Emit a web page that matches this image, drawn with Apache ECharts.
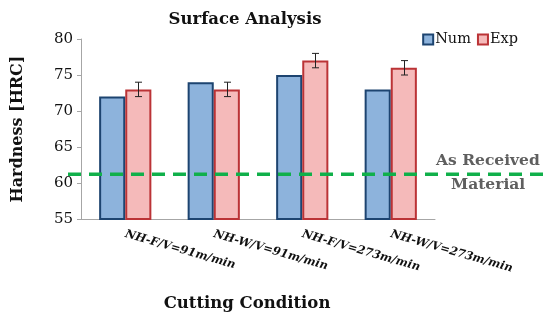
<!DOCTYPE html>
<html><head><meta charset="utf-8">
<script src="https://cdn.jsdelivr.net/npm/echarts@6/dist/echarts.min.js"></script>
<style>html,body{margin:0;padding:0;background:#fff}#c{width:550px;height:320px}</style>
</head><body><div id="c"></div>
<script>
var categories = ['NH-F/V=91m/min', 'NH-W/V=91m/min', 'NH-F/V=273m/min', 'NH-W/V=273m/min'];
var numValues = [72, 74, 75, 73];
var expValues = [73, 73, 77, 76];
var expErrors = [1, 1, 1, 1];
var asReceived = 61.2;
var yMin = 55, yMax = 80, yStep = 5;

var serif = 'DejaVu Serif';
var gap = 0.41;
var chart = echarts.init(document.getElementById('c'));
chart.setOption({
  animation: false,
  title: { text: 'Surface Analysis', left: 240, textAlign: 'center', top: 6,
    textStyle: { fontFamily: serif, fontWeight: 'bold', fontSize: 16.5, color: '#111' } },
  legend: { data: ['Num', 'Exp'], right: 27, top: 27, icon: 'rect', itemWidth: 10, itemHeight: 10, itemGap: 6,
    textStyle: { fontFamily: serif, fontSize: 14.5, color: '#111', padding: [0, 0, 0, -3] } },
  grid: [
    { left: 81, right: 115, top: 39, bottom: 101 },
    { left: 68, right: 7, top: 39, bottom: 101 }
  ],
  xAxis: [
    { type: 'category', data: categories, gridIndex: 0,
      axisLine: { lineStyle: { color: '#a6a6a6' } },
      axisTick: { length: 4, lineStyle: { color: '#a6a6a6' } },
      axisLabel: { rotate: -16, interval: 0, margin: 15, fontFamily: serif, fontStyle: 'italic', fontWeight: 'bold', fontSize: 11.5, color: '#111' },
      name: 'Cutting Condition', nameLocation: 'middle', nameGap: 76,
      nameTextStyle: { fontFamily: serif, fontWeight: 'bold', fontSize: 16.5, color: '#111', padding: [0, 22, 0, 0] } },
    { type: 'value', gridIndex: 1, min: 0, max: 1, show: false }
  ],
  yAxis: [
    { type: 'value', gridIndex: 0, min: yMin, max: yMax, interval: yStep,
      axisLine: { show: true, lineStyle: { color: '#a6a6a6' } },
      axisTick: { show: true, length: 4, lineStyle: { color: '#a6a6a6' } },
      splitLine: { show: false },
      axisLabel: { fontFamily: serif, fontSize: 15, color: '#111', margin: 8 },
      name: 'Hardness [HRC]', nameLocation: 'middle', nameGap: 55, nameRotate: 90,
      nameTextStyle: { fontFamily: serif, fontWeight: 'bold', fontSize: 16, color: '#111' } },
    { type: 'value', gridIndex: 1, min: yMin, max: yMax, show: false }
  ],
  series: [
    { name: 'Num', type: 'bar', data: numValues, barGap: '0%', barCategoryGap: (gap * 100) + '%',
      itemStyle: { color: '#8db3dc', borderColor: '#1d4470', borderWidth: 2 } },
    { name: 'Exp', type: 'bar', data: expValues,
      itemStyle: { color: '#f5baba', borderColor: '#bb3336', borderWidth: 2 } },
    { name: 'err', type: 'custom', z: 5,
      data: expValues.map(function (v, i) { return [i, v - expErrors[i], v + expErrors[i]]; }),
      renderItem: function (params, api) {
        var lo = api.coord([api.value(0), api.value(1)]);
        var hi = api.coord([api.value(0), api.value(2)]);
        var band = api.size([1, 0])[0];
        var off = band * (1 - gap) / 4;
        var x = Math.round(lo[0] + off) + 0.5, w = 3.5;
        var st = { stroke: '#222', lineWidth: 1 };
        return { type: 'group', children: [
          { type: 'line', shape: { x1: x, y1: lo[1], x2: x, y2: hi[1] }, style: st },
          { type: 'line', shape: { x1: x - w, y1: lo[1], x2: x + w, y2: lo[1] }, style: st },
          { type: 'line', shape: { x1: x - w, y1: hi[1], x2: x + w, y2: hi[1] }, style: st }
        ] };
      } },
    { name: 'ref', type: 'line', xAxisIndex: 1, yAxisIndex: 1, z: 10, symbol: 'none',
      data: [[0, asReceived], [1, asReceived]],
      lineStyle: { color: '#10b04a', width: 3.5, type: [13, 8] } }
  ],
  graphic: [
    { type: 'text', left: 436, top: 153, style: { text: 'As Received', fontFamily: serif, fontWeight: 'bold', fontSize: 15.5, fill: '#5f5f5f' } },
    { type: 'text', left: 451, top: 177, style: { text: 'Material', fontFamily: serif, fontWeight: 'bold', fontSize: 15.5, fill: '#5f5f5f' } }
  ]
});
</script></body></html>
